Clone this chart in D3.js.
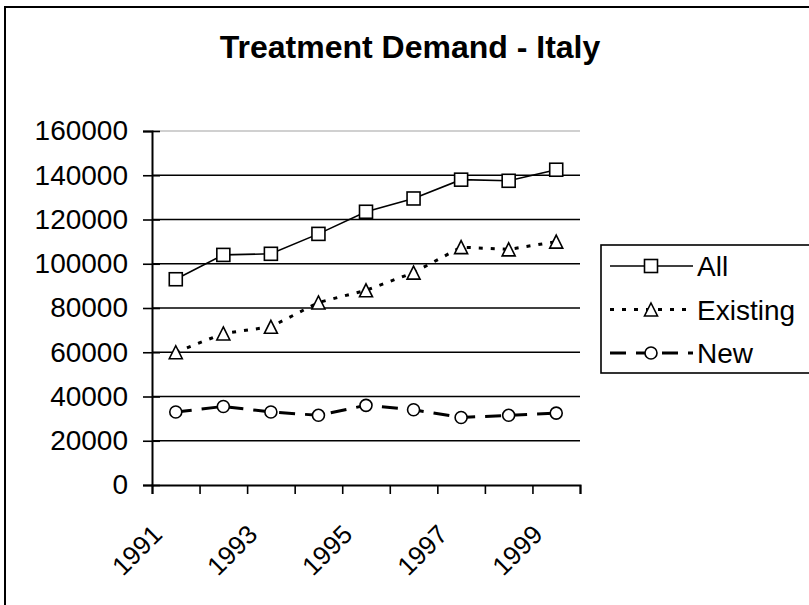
<!DOCTYPE html>
<html>
<head>
<meta charset="utf-8">
<script src="https://cdn.jsdelivr.net/npm/d3@7"></script>
<style>
  body { margin: 0; background: #fff; }
  svg { display: block; font-family: "Liberation Sans", Arial, sans-serif; }
</style>
</head>
<body>
<div id="chart"></div>
<script>
const years = ["1991", "1992", "1993", "1994", "1995", "1996", "1997", "1998", "1999"]
const allVals = [93000, 104000, 104500, 113500, 123500, 129500, 138000, 137500, 142500]
const existingVals = [60000, 68500, 71500, 82500, 88000, 96000, 107500, 106500, 110000]
const newVals = [33000, 35500, 33000, 31500, 36000, 34000, 30500, 31500, 32500]
const yTicks = [0, 20000, 40000, 60000, 80000, 100000, 120000, 140000, 160000]
const seriesNames = ["All", "Existing", "New"]

const width = 809, height = 605
const plot = {left: 152, right: 580, top: 131, bottom: 485}

const svg = d3.select("#chart").append("svg")
  .attr("width", width)
  .attr("height", height)

// outer chart border (runs off the right / bottom edge)
svg.append("rect")
  .attr("x", 5).attr("y", 7)
  .attr("width", 900).attr("height", 700)
  .attr("fill", "#fff")
  .attr("stroke", "#000")
  .attr("stroke-width", 2)

svg.append("text")
  .attr("x", 410).attr("y", 58)
  .attr("text-anchor", "middle")
  .attr("font-size", 32)
  .attr("font-weight", "bold")
  .text("Treatment Demand - Italy")

const x = d3.scaleBand().domain(years).range([plot.left, plot.right])
const xEdge = d3.scaleLinear().domain([0, years.length]).range([plot.left, plot.right])
const y = d3.scaleLinear().domain([0, 160000]).range([plot.bottom, plot.top])

// gridlines
svg.append("g")
  .selectAll("line")
  .data(yTicks.filter(d => d > 0))
  .enter()
  .append("line")
  .attr("x1", plot.left).attr("x2", plot.right)
  .attr("y1", d => y(d)).attr("y2", d => y(d))
  .attr("stroke", d => d === 160000 ? "#c0c0c0" : "#000")
  .attr("stroke-width", d => d === 160000 ? 1.5 : 1.6)

// y axis
const yAxis = svg.append("g")
  .attr("transform", `translate(${plot.left},0)`)
  .call(d3.axisLeft(y).tickValues(yTicks).tickSize(9).tickPadding(15).tickFormat(d3.format("d")))
yAxis.select(".domain").attr("stroke-width", 2)
yAxis.selectAll(".tick line").attr("x1", 8).attr("stroke-width", 1.6)
yAxis.selectAll("text").attr("font-size", 28).attr("fill", "#000")

// x axis ticks at category edges
const xAxis = svg.append("g")
  .attr("transform", `translate(0,${plot.bottom})`)
  .call(d3.axisBottom(xEdge).tickValues(d3.range(years.length + 1)).tickSize(9).tickFormat(""))
xAxis.select(".domain").attr("stroke-width", 2)
xAxis.selectAll(".tick line").attr("stroke-width", 1.6)

// x labels, every other year, rotated
svg.append("g")
  .selectAll("text")
  .data(years.filter((d, i) => i % 2 === 0))
  .enter()
  .append("text")
  .attr("transform", d => `translate(${x(d) + x.bandwidth() / 2 - 12},${plot.bottom + 51}) rotate(-45)`)
  .attr("text-anchor", "end")
  .attr("font-size", 26)
  .text(d => d)

const line = d3.line()
  .x((d, i) => x(years[i]) + x.bandwidth() / 2)
  .y(d => y(d))

const styles = {
  All: {dash: null, width: 1.6},
  Existing: {dash: "4,8", width: 3},
  New: {dash: "16,10", width: 3}
}
const seriesVals = {All: allVals, Existing: existingVals, New: newVals}

function marker(g, name, cx, cy) {
  if (name === "All") {
    g.append("rect")
      .attr("x", cx - 6.5).attr("y", cy - 6.5)
      .attr("width", 13).attr("height", 13)
      .attr("fill", "#fff").attr("stroke", "#000").attr("stroke-width", 1.6)
  } else if (name === "Existing") {
    g.append("path")
      .attr("d", `M${cx},${cy - 6.5}L${cx + 6.5},${cy + 6.5}L${cx - 6.5},${cy + 6.5}Z`)
      .attr("fill", "#fff").attr("stroke", "#000").attr("stroke-width", 1.6)
  } else {
    g.append("circle")
      .attr("cx", cx).attr("cy", cy).attr("r", 6)
      .attr("fill", "#fff").attr("stroke", "#000").attr("stroke-width", 1.6)
  }
}

seriesNames.forEach(name => {
  svg.append("path")
    .datum(seriesVals[name])
    .attr("fill", "none")
    .attr("stroke", "#000")
    .attr("stroke-width", styles[name].width)
    .attr("stroke-dasharray", styles[name].dash)
    .attr("d", line)
  const g = svg.append("g")
  seriesVals[name].forEach((v, i) => {
    marker(g, name, x(years[i]) + x.bandwidth() / 2, y(v))
  })
})

// legend
const legend = svg.append("g")
legend.append("rect")
  .attr("x", 601).attr("y", 245)
  .attr("width", 260).attr("height", 128)
  .attr("fill", "#fff").attr("stroke", "#000").attr("stroke-width", 1.6)

seriesNames.forEach((name, i) => {
  const ly = 266 + i * 43.5
  legend.append("line")
    .attr("x1", 610).attr("x2", 693)
    .attr("y1", ly).attr("y2", ly)
    .attr("stroke", "#000")
    .attr("stroke-width", styles[name].width)
    .attr("stroke-dasharray", styles[name].dash)
  marker(legend, name, 651, ly)
  legend.append("text")
    .attr("x", 697).attr("y", ly + 10)
    .attr("font-size", 28)
    .text(name)
})
</script>
</body>
</html>
